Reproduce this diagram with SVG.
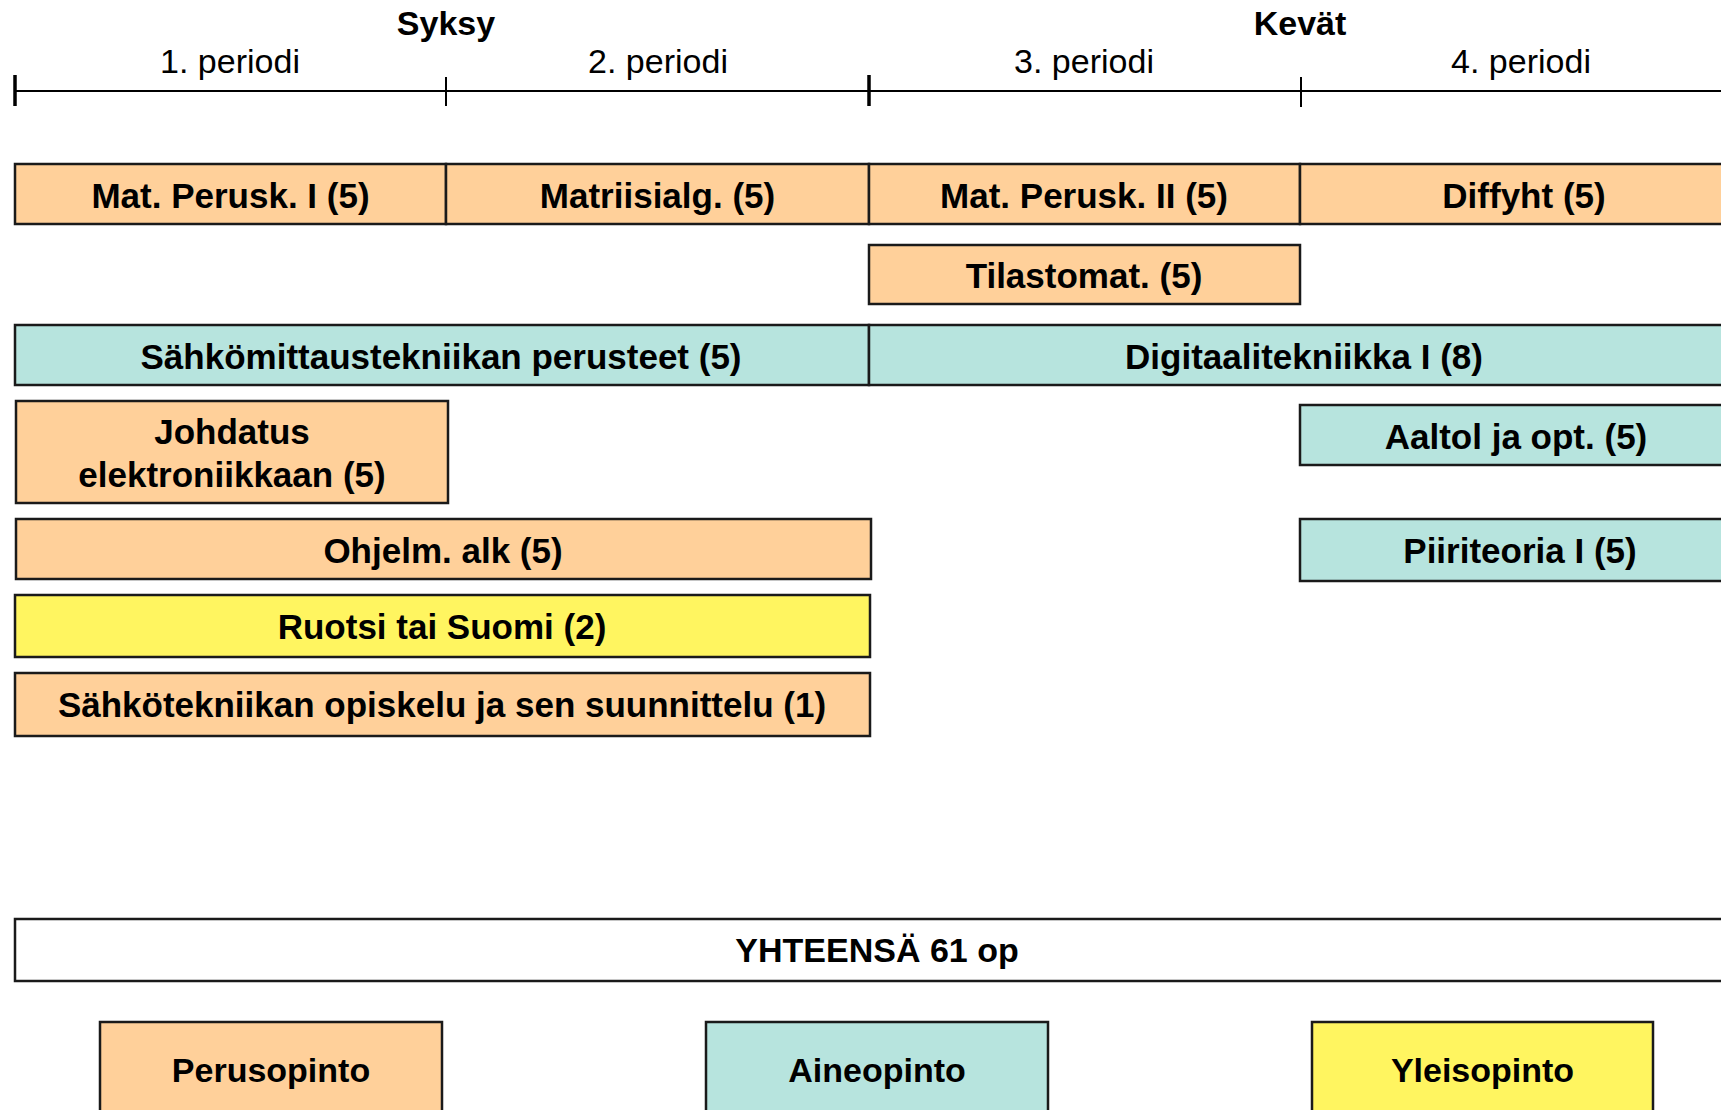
<svg xmlns="http://www.w3.org/2000/svg" width="1721" height="1110" viewBox="0 0 1721 1110">
<style>
text{font-family:"Liberation Sans",Arial,sans-serif;font-size:34px;text-anchor:middle;fill:#000}
.b{font-weight:bold}
.l{font-size:35px}
.box{stroke:#1a1a1a;stroke-width:2.5}
.p{fill:#FFD09A}
.a{fill:#B7E4DE}
.y{fill:#FFF560}
.w{fill:#fff}
.ax{stroke:#000;stroke-width:2;fill:none}
.tk{stroke:#000;stroke-width:3.5;fill:none}
</style>
<rect width="1721" height="1110" fill="#fff"/>
<g id="timeline">
<line class="ax" x1="15" y1="91" x2="1721" y2="91"/>
<line class="tk" x1="15" y1="75" x2="15" y2="106"/>
<line class="ax" x1="446" y1="77" x2="446" y2="106"/>
<line class="tk" x1="869" y1="75" x2="869" y2="106"/>
<line class="ax" x1="1301" y1="77" x2="1301" y2="107"/>
<text class="b" x="446" y="35">Syksy</text>
<text class="b" x="1300" y="35">Kevät</text>
<text x="230" y="73">1. periodi</text>
<text x="658" y="73">2. periodi</text>
<text x="1084" y="73">3. periodi</text>
<text x="1521" y="73">4. periodi</text>
</g>
<g id="connectors"></g>
<g id="mat1"><rect class="box p" x="15" y="164" width="431" height="60"/><text class="b l" x="230.5" y="208">Mat. Perusk. I (5)</text></g>
<g id="matriisi"><rect class="box p" x="446" y="164" width="423" height="60"/><text class="b l" x="657.5" y="208">Matriisialg. (5)</text></g>
<g id="mat2"><rect class="box p" x="869" y="164" width="431" height="60"/><text class="b l" x="1084" y="208">Mat. Perusk. II (5)</text></g>
<g id="diffyht"><rect class="box p" x="1300" y="164" width="440" height="60"/><text class="b l" x="1524" y="208">Diffyht (5)</text></g>
<g id="tilastomat"><rect class="box p" x="869" y="245" width="431" height="59"/><text class="b l" x="1084" y="288">Tilastomat. (5)</text></g>
<g id="sahkomittaus"><rect class="box a" x="15" y="325" width="854" height="60"/><text class="b l" x="441" y="369">Sähkömittaustekniikan perusteet (5)</text></g>
<g id="digitaali"><rect class="box a" x="869" y="325" width="871" height="60"/><text class="b l" x="1304" y="369">Digitaalitekniikka I (8)</text></g>
<g id="johdatus"><rect class="box p" x="16" y="401" width="432" height="102"/><text class="b l" x="232" y="444">Johdatus</text><text class="b l" x="232" y="487">elektroniikkaan (5)</text></g>
<g id="aaltol"><rect class="box a" x="1300" y="405" width="440" height="60"/><text class="b l" x="1516" y="449">Aaltol ja opt. (5)</text></g>
<g id="ohjelm"><rect class="box p" x="16" y="519" width="855" height="60"/><text class="b l" x="443" y="563">Ohjelm. alk (5)</text></g>
<g id="piiriteoria"><rect class="box a" x="1300" y="519" width="440" height="62"/><text class="b l" x="1520" y="563">Piiriteoria I (5)</text></g>
<g id="ruotsi"><rect class="box y" x="15" y="595" width="855" height="62"/><text class="b l" x="442" y="639">Ruotsi tai Suomi (2)</text></g>
<g id="sahkotek"><rect class="box p" x="15" y="673" width="855" height="63"/><text class="b l" x="442" y="717">Sähkötekniikan opiskelu ja sen suunnittelu (1)</text></g>
<g id="yhteensa"><rect class="box w" x="15" y="919" width="1725" height="62"/><text class="b" x="877" y="962">YHTEENSÄ 61 op</text></g>
<g id="perusopinto"><rect class="box p" x="100" y="1022" width="342" height="100"/><text class="b" x="271" y="1082">Perusopinto</text></g>
<g id="aineopinto"><rect class="box a" x="706" y="1022" width="342" height="100"/><text class="b" x="877" y="1082">Aineopinto</text></g>
<g id="yleisopinto"><rect class="box y" x="1312" y="1022" width="341" height="100"/><text class="b" x="1482.5" y="1082">Yleisopinto</text></g>
</svg>
